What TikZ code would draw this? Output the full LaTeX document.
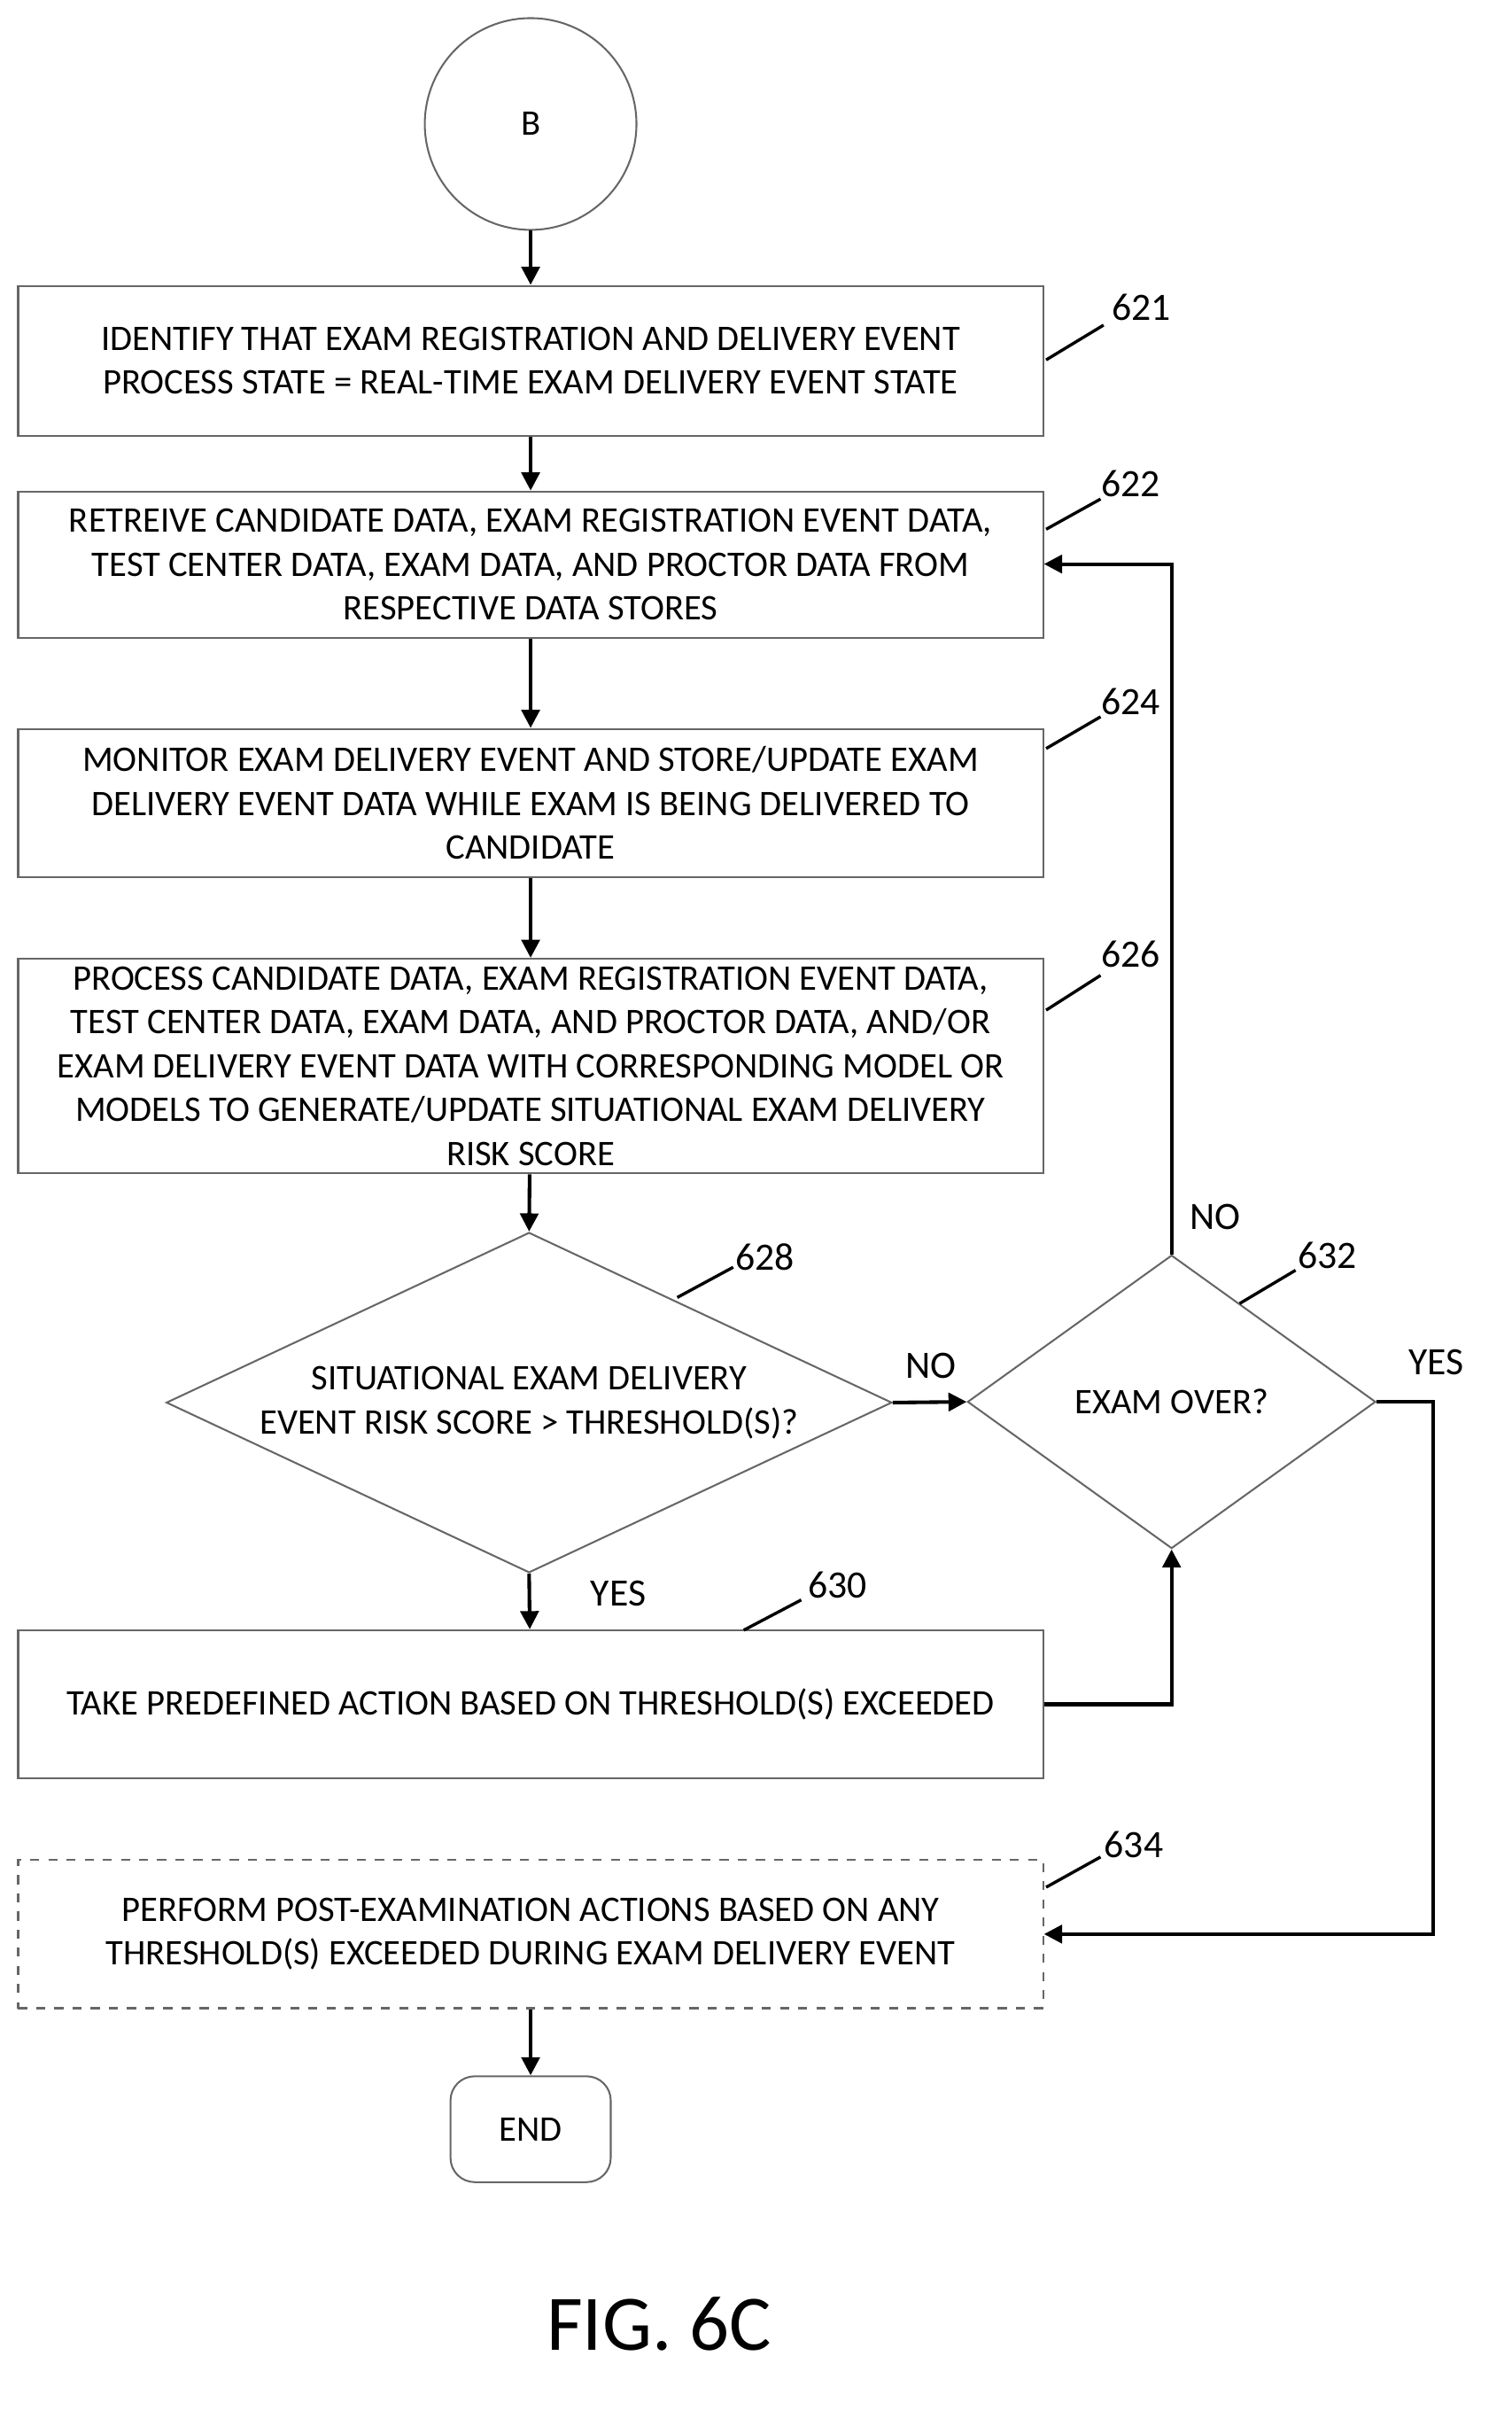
\documentclass[tikz,border=0pt]{standalone}
\usepackage{fontspec}
\setmainfont{Carlito}
\usetikzlibrary{shapes.geometric,arrows.meta}
\begin{document}
\begin{tikzpicture}[x=0.5pt,y=-0.5pt,
  box/.style={draw=black!60,line width=0.6pt,font=\fontsize{11.9}{14.5}\selectfont,align=center,inner sep=0},
  wbox/.style={box,minimum width=339pt},
  lab/.style={font=\fontsize{12.8}{14}\selectfont},
  arr/.style={line width=1.2pt,-{Triangle[length=6pt,width=6pt]}},
  ld/.style={line width=1pt}]
\useasboundingbox (0,0) rectangle (1000,1599);
\node[box,circle,minimum size=70pt] (B) at (351,82) {B};
\node[wbox,minimum height=49.5pt] (n621) at (351,238.5) {IDENTIFY THAT EXAM REGISTRATION AND DELIVERY EVENT\\PROCESS STATE = REAL-TIME EXAM DELIVERY EVENT STATE};
\node[wbox,minimum height=48.5pt] (n622) at (351,373.5) {RETREIVE CANDIDATE DATA, EXAM REGISTRATION EVENT DATA,\\TEST CENTER DATA, EXAM DATA, AND PROCTOR DATA FROM\\RESPECTIVE DATA STORES};
\node[wbox,minimum height=49pt] (n624) at (351,531) {MONITOR EXAM DELIVERY EVENT AND STORE/UPDATE EXAM\\DELIVERY EVENT DATA WHILE EXAM IS BEING DELIVERED TO\\CANDIDATE};
\node[wbox,minimum height=71pt] (n626) at (351,705) {PROCESS CANDIDATE DATA, EXAM REGISTRATION EVENT DATA,\\TEST CENTER DATA, EXAM DATA, AND PROCTOR DATA, AND/OR\\EXAM DELIVERY EVENT DATA WITH CORRESPONDING MODEL OR\\MODELS TO GENERATE/UPDATE SITUATIONAL EXAM DELIVERY\\RISK SCORE};
\node[box,diamond,minimum width=240pt,minimum height=112.5pt] (n628) at (350,927.5) {};
\node[box,draw=none] at (350,927.5) {SITUATIONAL EXAM DELIVERY\\EVENT RISK SCORE > THRESHOLD(S)?};
\node[box,diamond,minimum width=135pt,minimum height=97pt] (n632) at (775,927) {};
\node[box,draw=none] at (775,927) {EXAM OVER?};
\node[wbox,minimum height=49pt] (n630) at (351,1127) {TAKE PREDEFINED ACTION BASED ON THRESHOLD(S) EXCEEDED};
\node[wbox,dashed,minimum height=49pt] (n634) at (351,1279) {PERFORM POST-EXAMINATION ACTIONS BASED ON ANY\\THRESHOLD(S) EXCEEDED DURING EXAM DELIVERY EVENT};
\node[box,rounded corners=8pt,minimum width=53pt,minimum height=35pt] (end) at (351,1408) {END};
\node[font=\fontsize{26}{30}\selectfont] (fig) at (436,1537) {FIG. 6C};
% labels
\node[lab] (l621) at (755,203) {621}; \draw[ld] (692,238)--(730,215);
\node[lab] (l622) at (748,320) {622}; \draw[ld] (692,350)--(728,330);
\node[lab] (l624) at (748,464) {624}; \draw[ld] (692,495)--(728,474);
\node[lab] (l626) at (748,631) {626}; \draw[ld] (692,668)--(728,645);
\node[lab] (l628) at (506,831) {628}; \draw[ld] (448,858)--(485,838);
\node[lab] (l632) at (878,830) {632}; \draw[ld] (820,862)--(857,840);
\node[lab] (l630) at (554,1048) {630}; \draw[ld] (492,1078)--(530,1058);
\node[lab] (l634) at (750,1220) {634}; \draw[ld] (692,1248)--(728,1228);
\node[lab] (no1) at (616,903) {NO};
\node[lab] (no2) at (804,805) {NO};
\node[lab] (yes1) at (409,1054) {YES};
\node[lab] (yes2) at (950,901) {YES};
% arrows
\draw[arr] (B)--(n621);
\draw[arr] (n621)--(n622);
\draw[arr] (n622)--(n624);
\draw[arr] (n624)--(n626);
\draw[arr] (n626)--(n628.north);
\draw[arr] (n628.south)--(n630);
\draw[arr] (n628.east)--(n632.west);
\draw[arr] (n632.north)--(775,373)--(n622.east |- 0,373);
\draw[arr] (n630.east)--(775,1127)--(n632.south);
\draw[arr] (n632.east)--(948,927)--(948,1279)--(n634.east);
\draw[arr] (n634)--(end);
\end{tikzpicture}
\end{document}
